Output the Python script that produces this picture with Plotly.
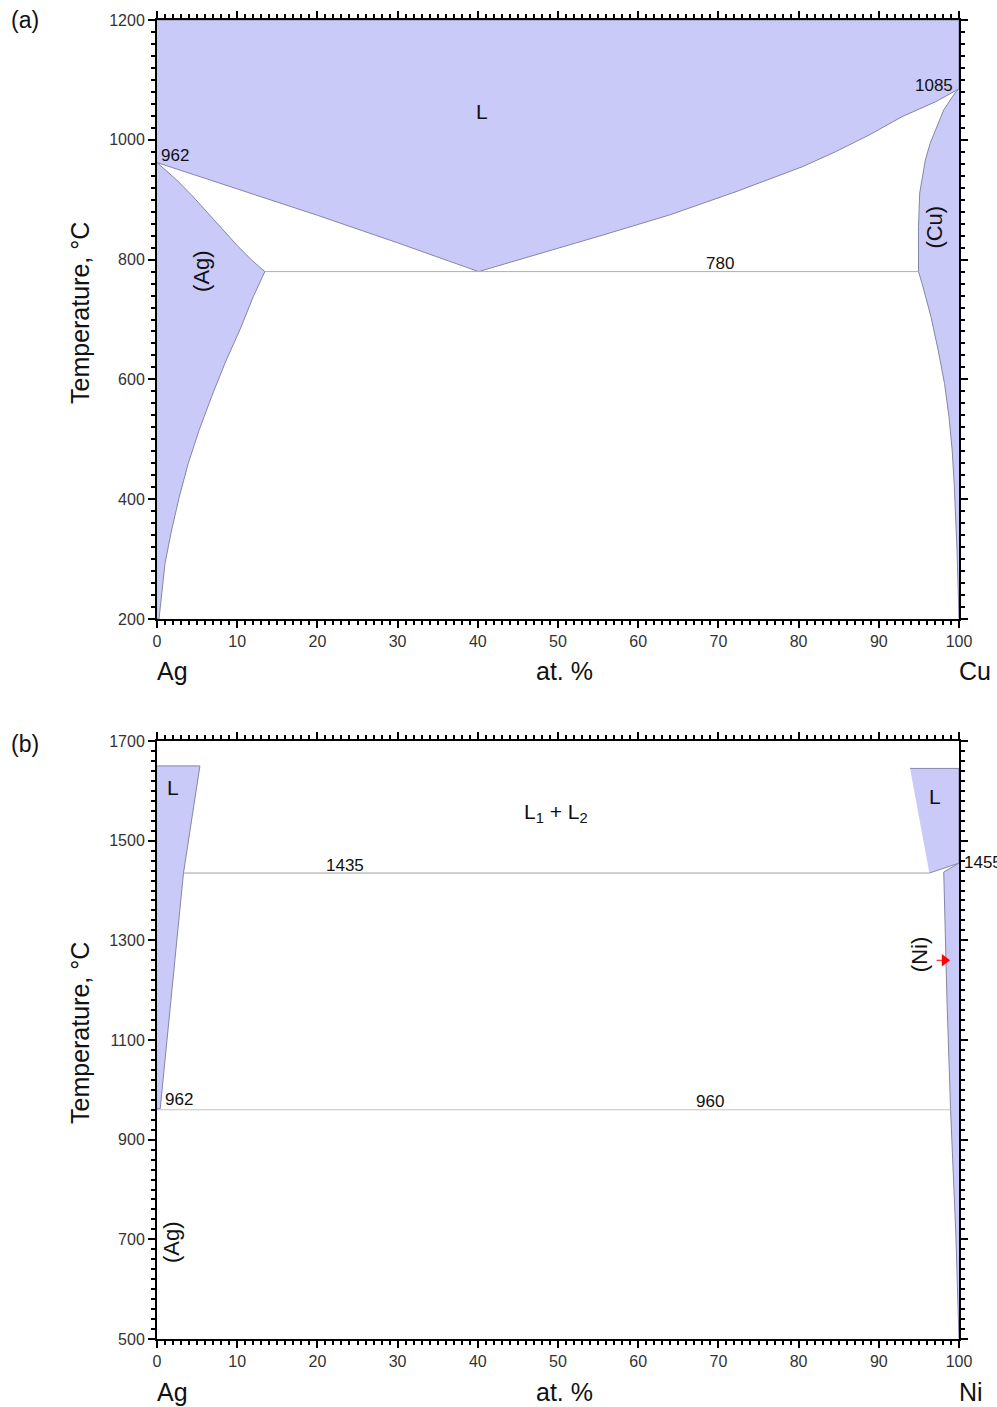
import plotly.graph_objects as go

W, H = 997, 1407

# ---------------- Panel (a): Ag-Cu ----------------
liq_ag_x = [0, 10, 20, 30, 40.1]
liq_ag_t = [962, 918, 874, 828, 780]
liq_cu_x = [40.1, 47.3, 55.6, 63.9, 72.2, 80.5, 84.6, 88.8, 92.9, 97.1, 100]
liq_cu_t = [780, 807.7, 841, 874.5, 913.4, 955.2, 980, 1008, 1038.6, 1063.6, 1085]
sol_ag_x = [0, 2.45, 4.5, 6.4, 8.3, 10.1, 11.9, 13.45]
sol_ag_t = [962, 933, 905, 877, 849, 822, 798, 780]
svs_ag_x = [13.45, 12.0, 10.34, 8.47, 6.8, 5.27, 3.9, 2.78, 1.83, 1.0, 0.5, 0.25]
svs_ag_t = [780, 738, 683, 627, 571, 516, 460, 404, 349, 293, 237, 200]
sol_cu_x = [100, 99.6, 98.1, 97.2, 96.4, 95.8, 95.1, 94.95, 94.95]
sol_cu_t = [1085, 1080, 1050, 1022, 994, 966, 911, 855, 780]
svs_cu_x = [94.95, 95.4, 96.5, 97.4, 98.2, 98.75, 99.15, 99.4, 99.6, 99.75, 99.9, 100]
svs_cu_t = [780, 760, 705, 649, 593, 538, 482, 426, 371, 315, 250, 200]
eut_a_x = [13.45, 94.95]
eut_a_t = [780, 780]

# ---------------- Panel (b): Ag-Ni ----------------
liqL_x = [0, 5.35, 3.3, 0.4, 0]
liqL_t = [1650, 1650, 1435, 962, 962]
liqR_x = [93.9, 100, 100, 96.3]
liqR_t = [1645, 1645, 1455, 1435]
ni_x = [100, 98.1, 98.5, 98.95, 99.6, 100]
ni_t = [1455, 1437, 1180, 960, 713, 500]
mono_x = [3.3, 96.3]
mono_t = [1435, 1435]
eut_b_x = [0, 98.95]
eut_b_t = [960, 960]
arrow_x = [98.2]
arrow_t = [1260]
arrow_tail_x = [97.2, 98.0]

FILL = "#cacaf8"
EDGE = "#8585a8"
HLINE = "#b0b0b0"
FONT = "Liberation Sans, Arial, sans-serif"

fig = go.Figure()

def poly(x, y, xa, ya):
    fig.add_trace(go.Scatter(x=x, y=y, mode="lines", fill="toself", fillcolor=FILL,
                             line=dict(color=EDGE, width=1), xaxis=xa, yaxis=ya,
                             hoverinfo="skip", showlegend=False))

def line(x, y, xa, ya, color=HLINE, width=1):
    fig.add_trace(go.Scatter(x=x, y=y, mode="lines", line=dict(color=color, width=width),
                             xaxis=xa, yaxis=ya, hoverinfo="skip", showlegend=False))

# Panel a polygons
L_x = [0, 100] + liq_cu_x[::-1] + liq_ag_x[::-1]
L_t = [1200, 1200] + liq_cu_t[::-1] + liq_ag_t[::-1]
poly(L_x, L_t, "x", "y")
poly(sol_ag_x + svs_ag_x[1:] + [0], sol_ag_t + svs_ag_t[1:] + [200], "x", "y")
poly(sol_cu_x + svs_cu_x[1:], sol_cu_t + svs_cu_t[1:], "x", "y")
line(eut_a_x, eut_a_t, "x", "y")

# Panel b polygons
poly(liqL_x, liqL_t, "x2", "y2")
poly(liqR_x, liqR_t, "x2", "y2")
poly(ni_x, ni_t, "x2", "y2")
line(mono_x, mono_t, "x2", "y2", color="#a0a0a0")
line(eut_b_x, eut_b_t, "x2", "y2", color="#c4c4c4")
fig.add_trace(go.Scatter(x=arrow_tail_x, y=arrow_t * 2, mode="lines",
                         line=dict(color="red", width=1), xaxis="x2", yaxis="y2",
                         hoverinfo="skip", showlegend=False))
fig.add_trace(go.Scatter(x=arrow_x, y=arrow_t, mode="markers",
                         marker=dict(symbol="triangle-right", size=11, color="red"),
                         xaxis="x2", yaxis="y2", hoverinfo="skip", showlegend=False))

xdom = [157 / W, 959 / W]
dom_a = [1 - 619 / H, 1 - 20 / H]
dom_b = [1 - 1339 / H, 1 - 741 / H]

def axis_common():
    return dict(showline=True, linecolor="black", linewidth=2, mirror="allticks",
                ticks="outside", ticklen=7, tickwidth=2, tickcolor="black",
                showgrid=False, zeroline=False, automargin=False,
                tickfont=dict(family=FONT, size=16, color="#333333"))

def minor(d):
    return dict(ticks="outside", ticklen=4, tickwidth=1.5, tickcolor="black", dtick=d,
                showgrid=False)

xa = axis_common()
xa.update(domain=xdom, range=[0, 100], tick0=0, dtick=10, anchor="y", minor=minor(1))
ya = axis_common()
ya.update(domain=dom_a, range=[200, 1200], tick0=200, dtick=200, anchor="x", minor=minor(20))
xb = axis_common()
xb.update(domain=xdom, range=[0, 100], tick0=0, dtick=10, anchor="y2", minor=minor(1))
yb = axis_common()
yb.update(domain=dom_b, range=[500, 1700], tick0=500, dtick=200, anchor="x2", minor=minor(20))

anns = []

def dtext(t, x, y, xr, yr, size=17, angle=0, xanchor="center", xshift=0):
    anns.append(dict(text=t, x=x, y=y, xref=xr, yref=yr, showarrow=False,
                     font=dict(family=FONT, size=size, color="#111111"),
                     textangle=angle, xanchor=xanchor, yanchor="middle", xshift=xshift))

def ptext(t, px, py, size=25, xanchor="center", angle=0):
    anns.append(dict(text=t, x=px / W, y=1 - py / H, xref="paper", yref="paper",
                     showarrow=False, font=dict(family=FONT, size=size, color="#111111"),
                     xanchor=xanchor, yanchor="middle", textangle=angle))

# panel a labels
dtext("L", 40.5, 1048, "x", "y", size=21)
dtext("962", 0.3, 973, "x", "y", size=17, xanchor="left")
dtext("1085", 99.5, 1090, "x", "y", size=17, xanchor="right")
dtext("780", 70.2, 793, "x", "y", size=17)
dtext("(Ag)", 5.6, 781, "x", "y", size=22, angle=-90)
dtext("(Cu)", 97.0, 855, "x", "y", size=22, angle=-90)

# panel b labels
dtext("L", 2.0, 1606, "x2", "y2", size=21)
dtext("L", 97.0, 1588, "x2", "y2", size=21)
dtext("L<sub>1</sub> + L<sub>2</sub>", 49.7, 1556, "x2", "y2", size=21)
dtext("1435", 23.4, 1451, "x2", "y2", size=17)
dtext("1455", 100, 1457, "x2", "y2", size=17, xanchor="left", xshift=3)
dtext("962", 0.8, 981, "x2", "y2", size=17, xanchor="left")
dtext("960", 68.9, 977, "x2", "y2", size=17)
dtext("(Ag)", 1.9, 695, "x2", "y2", size=22, angle=-90)
dtext("(Ni)", 95.0, 1272, "x2", "y2", size=22, angle=-90)

# axis titles / paper labels
ptext("Temperature, °C", 80, 313, angle=-90)
ptext("Temperature, °C", 80, 1033, angle=-90)
ptext("Ag", 172, 671)
ptext("at. %", 564, 671)
ptext("Cu", 975, 671)
ptext("Ag", 172, 1392)
ptext("at. %", 564, 1392)
ptext("Ni", 971, 1392)
ptext("(a)", 25, 20, size=23)
ptext("(b)", 25, 744, size=23)

fig.update_layout(width=W, height=H, margin=dict(l=0, r=0, t=0, b=0, autoexpand=False),
                  template="none",
                  paper_bgcolor="white", plot_bgcolor="white",
                  xaxis=xa, yaxis=ya, xaxis2=xb, yaxis2=yb,
                  annotations=anns, showlegend=False)

fig.write_html("out.html")
